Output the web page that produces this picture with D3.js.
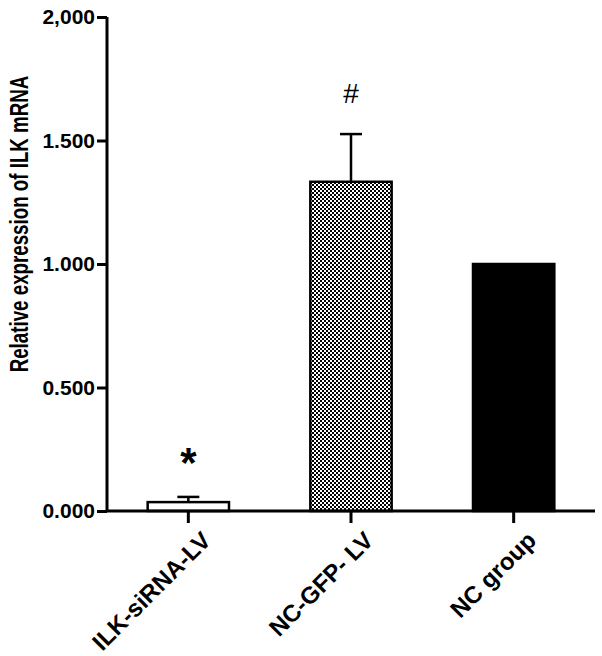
<!DOCTYPE html>
<html>
<head>
<meta charset="utf-8"/>
<script src="https://d3js.org/d3.v7.min.js"></script>
<style>
  body { margin: 0; background: #fff; }
  text { font-family: "Liberation Sans", Arial, sans-serif; }
</style>
</head>
<body>
<div id="chart"></div>
<script>
// data
var groups = ["ILK-siRNA-LV", "NC-GFP- LV", "NC group"];
var means = [0.036, 1.333, 1.0];
var errs = [0.021, 0.193, 0];
var marks = ["*", "#", ""];
var yTicks = [0, 0.5, 1, 1.5, 2];
var yTickLabels = ["0.000", "0.500", "1.000", "1.500", "2,000"];

var width = 602, height = 656;

var svg = d3.select("#chart").append("svg")
    .attr("width", width)
    .attr("height", height);

// checkerboard fill for the middle bar
var defs = svg.append("defs");
var pat = defs.append("pattern")
    .attr("id", "checks")
    .attr("patternUnits", "userSpaceOnUse")
    .attr("width", 4).attr("height", 4);
pat.append("rect").attr("width", 4).attr("height", 4).attr("fill", "#fff");
pat.append("rect").attr("width", 2).attr("height", 2).attr("fill", "#000");
pat.append("rect").attr("x", 2).attr("y", 2).attr("width", 2).attr("height", 2).attr("fill", "#000");

var fills = ["#fff", "url(#checks)", "#000"];

var x = d3.scaleBand()
    .domain(groups)
    .range([107, 595])
    .paddingInner(0.5)
    .paddingOuter(0.25);

var y = d3.scaleLinear()
    .domain([0, 2])
    .range([511, 17]);

// bars
svg.selectAll(".bar")
    .data(groups)
    .enter().append("rect")
    .attr("class", "bar")
    .attr("x", function(d){ return x(d); })
    .attr("y", function(d, i){ return y(means[i]); })
    .attr("width", x.bandwidth())
    .attr("height", function(d, i){ return y(0) - y(means[i]); })
    .attr("fill", function(d, i){ return fills[i]; })
    .attr("stroke", "#000")
    .attr("stroke-width", 2.5);

// one-sided error bars
var capW = 11;
groups.forEach(function(g, i){
    if (!errs[i]) return;
    var cx = x(g) + x.bandwidth() / 2;
    svg.append("line")
        .attr("x1", cx).attr("x2", cx)
        .attr("y1", y(means[i])).attr("y2", y(means[i] + errs[i]))
        .attr("stroke", "#000").attr("stroke-width", 2.5);
    svg.append("line")
        .attr("x1", cx - capW).attr("x2", cx + capW)
        .attr("y1", y(means[i] + errs[i])).attr("y2", y(means[i] + errs[i]))
        .attr("stroke", "#000").attr("stroke-width", 2.5);
});

// significance marks
svg.append("text")
    .attr("x", x(groups[0]) + x.bandwidth() / 2)
    .attr("y", 477)
    .attr("text-anchor", "middle")
    .style("font-size", "42px")
    .style("font-weight", "bold")
    .text(marks[0]);
svg.append("text")
    .attr("x", x(groups[1]) + x.bandwidth() / 2)
    .attr("y", 103)
    .attr("text-anchor", "middle")
    .style("font-size", "28px")
    .text(marks[1]);

// y axis
var yAxis = d3.axisLeft(y)
    .tickValues(yTicks)
    .tickFormat(function(d, i){ return yTickLabels[i]; })
    .tickSize(10)
    .tickPadding(2);

var gy = svg.append("g")
    .attr("transform", "translate(107,0)")
    .call(yAxis);
gy.select(".domain").attr("stroke-width", 3).attr("d", "M0," + y(2) + "V" + y(0));
gy.selectAll(".tick line").attr("stroke-width", 3);
gy.selectAll(".tick text")
    .style("font-size", "21px")
    .style("font-weight", "bold")
    .attr("fill", "#000");

// x axis
var xAxis = d3.axisBottom(x).tickSize(12).tickFormat("");
var gx = svg.append("g")
    .attr("transform", "translate(0,511)")
    .call(xAxis);
gx.select(".domain").attr("stroke-width", 3).attr("d", "M106,0H595");
gx.selectAll(".tick line").attr("stroke-width", 3);

// rotated category labels
svg.selectAll(".xlab")
    .data(groups)
    .enter().append("text")
    .attr("class", "xlab")
    .attr("text-anchor", "end")
    .attr("transform", function(d){
        return "translate(" + (x(d) + x.bandwidth() / 2 + 12) + ",530) rotate(-45)";
    })
    .attr("dy", "0.7em")
    .style("font-size", "24px")
    .style("font-weight", "bold")
    .text(function(d){ return d; });

// y axis title (glyphs in the figure are narrow and tall)
svg.append("text")
    .attr("transform", "translate(28,224) rotate(-90) scale(0.75,1)")
    .attr("text-anchor", "middle")
    .style("font-size", "25px")
    .style("font-weight", "bold")
    .text("Relative expression of ILK mRNA");
</script>
</body>
</html>
